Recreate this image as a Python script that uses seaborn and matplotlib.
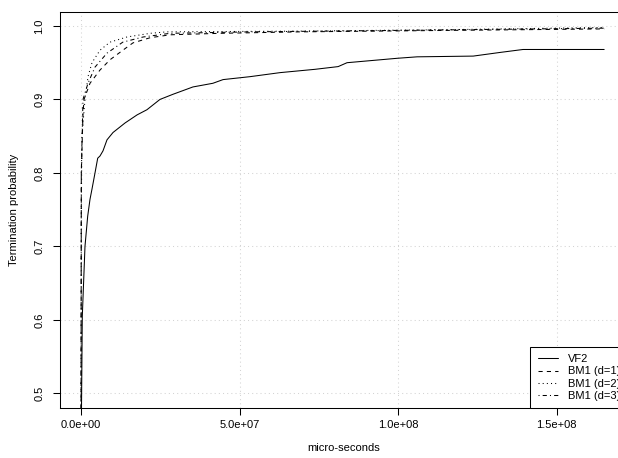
import numpy as np
import pandas as pd
import matplotlib
matplotlib.use("Agg")
import matplotlib.pyplot as plt
import seaborn as sns

# ---- data (x in micro-seconds, y = termination probability) ----
vf2_x = [0, 0.41e6, 1.26e6, 2.11e6, 2.84e6, 3.47e6, 4.42e6, 5.27e6, 5.99e6, 6.94e6,
         8.2e6, 10.1e6, 13.9e6, 17.7e6, 20.8e6, 24.9e6, 29.0e6, 35.3e6, 41.6e6, 44.8e6,
         53.3e6, 62.8e6, 73.8e6, 81.1e6, 83.9e6, 99.7e6, 106e6, 123.7e6, 132.2e6, 139.4e6, 165e6]
vf2_y = [0.40, 0.6045, 0.700, 0.741, 0.764, 0.778, 0.800, 0.820, 0.823, 0.830,
         0.845, 0.855, 0.868, 0.879, 0.886, 0.900, 0.907, 0.917, 0.922, 0.927,
         0.931, 0.9365, 0.941, 0.9447, 0.950, 0.956, 0.958, 0.959, 0.964, 0.968, 0.968]

bm1_d1_x = [0, 0.1e6, 0.63e6, 0.95e6, 2.84e6, 5.99e6, 9.15e6, 13.2e6, 16.4e6, 21.8e6,
            28.1e6, 43.8e6, 69.1e6, 116.4e6, 165e6]
bm1_d1_y = [0.40, 0.80, 0.88, 0.90, 0.922, 0.940, 0.954, 0.967, 0.977, 0.984,
            0.988, 0.990, 0.992, 0.994, 0.996]

bm1_d2_x = [0, 0.1e6, 0.3e6, 1.26e6, 2.21e6, 3.47e6, 5.99e6, 9.15e6, 14.5e6, 21.8e6,
            27.1e6, 69.1e6, 116.4e6, 165e6]
bm1_d2_y = [0.40, 0.75, 0.85, 0.900, 0.931, 0.950, 0.967, 0.978, 0.985, 0.990,
            0.992, 0.993, 0.995, 0.998]

bm1_d3_x = [0, 0.1e6, 0.63e6, 2.21e6, 4.42e6, 8.2e6, 13.2e6, 19.6e6, 28.1e6, 53.3e6,
            100.6e6, 165e6]
bm1_d3_y = [0.40, 0.80, 0.900, 0.922, 0.944, 0.963, 0.978, 0.985, 0.990, 0.992,
            0.994, 0.997]

series_names = ["VF2", "BM1 (d=1)", "BM1 (d=2)", "BM1 (d=3)"]
x_ticks = [0, 5e7, 1e8, 1.5e8]
x_tick_labels = ["0.0e+00", "5.0e+07", "1.0e+08", "1.5e+08"]
y_ticks = [0.5, 0.6, 0.7, 0.8, 0.9, 1.0]
y_tick_labels = ["0.5", "0.6", "0.7", "0.8", "0.9", "1.0"]

frames = []
for name, xs, ys in zip(series_names,
                        [vf2_x, bm1_d1_x, bm1_d2_x, bm1_d3_x],
                        [vf2_y, bm1_d1_y, bm1_d2_y, bm1_d3_y]):
    frames.append(pd.DataFrame({"x": xs, "y": ys, "series": name}))
df = pd.concat(frames, ignore_index=True)

# ---- style ----
sns.set_theme(style="white")
plt.rcParams["font.family"] = ["Liberation Sans", "DejaVu Sans"]
FS = 8

fig = plt.figure(figsize=(6.18, 4.58), dpi=100)
W, H = 618, 458
left_px, right_px, top_px, bottom_px = 60, 627, 11.5, 408
ax = fig.add_axes([left_px / W, 1 - bottom_px / H,
                   (right_px - left_px) / W, (bottom_px - top_px) / H])

dashes = {"VF2": "", "BM1 (d=1)": (4, 4), "BM1 (d=2)": (1, 3), "BM1 (d=3)": (1, 3, 4, 3)}
sns.lineplot(data=df, x="x", y="y", style="series", style_order=series_names,
             dashes=dashes, color="black", linewidth=0.75, estimator=None,
             sort=False, ax=ax)

ax.set_xlim(-6.62e6, 172.2e6)
ax.set_ylim(0.48, 1.0197)

ax.set_xticks(x_ticks)
ax.set_xticklabels(x_tick_labels)
ax.set_yticks(y_ticks)
ax.set_yticklabels(y_tick_labels, rotation=90, va="center")

ax.grid(True, color="#D3D3D3", linestyle=(0, (1, 3)), linewidth=0.75)
ax.set_axisbelow(True)

for s in ["left", "bottom", "top"]:
    ax.spines[s].set_color("black")
    ax.spines[s].set_linewidth(0.75)
ax.spines["right"].set_visible(False)

ax.tick_params(axis="both", direction="out", length=5, width=0.75, colors="black",
               labelsize=FS, left=True, bottom=True)
ax.tick_params(axis="x", pad=3.4)
ax.tick_params(axis="y", pad=6.2)

ax.set_xlabel("micro-seconds", fontsize=FS, color="black")
ax.set_ylabel("Termination probability", fontsize=FS, color="black")
ax.xaxis.label.set_va("center")
ax.yaxis.label.set_va("center")
ax.xaxis.set_label_coords(0.5, -(448 - 408) / (bottom_px - top_px))
ax.yaxis.set_label_coords(-(60 - 14.5) / (right_px - left_px), 0.5)

handles, labels = ax.get_legend_handles_labels()
if ax.get_legend() is not None:
    ax.get_legend().remove()
leg = ax.legend(handles, labels, loc="lower right", bbox_to_anchor=(1, 0),
                borderaxespad=0, fontsize=FS, frameon=True, fancybox=False,
                framealpha=1, edgecolor="black", borderpad=0.64,
                handlelength=1.8, handletextpad=0.9, labelspacing=0.2)
leg.get_frame().set_linewidth(0.75)
for t in leg.get_texts():
    t.set_color("black")

fig.savefig("out.png", dpi=100, facecolor="white")
